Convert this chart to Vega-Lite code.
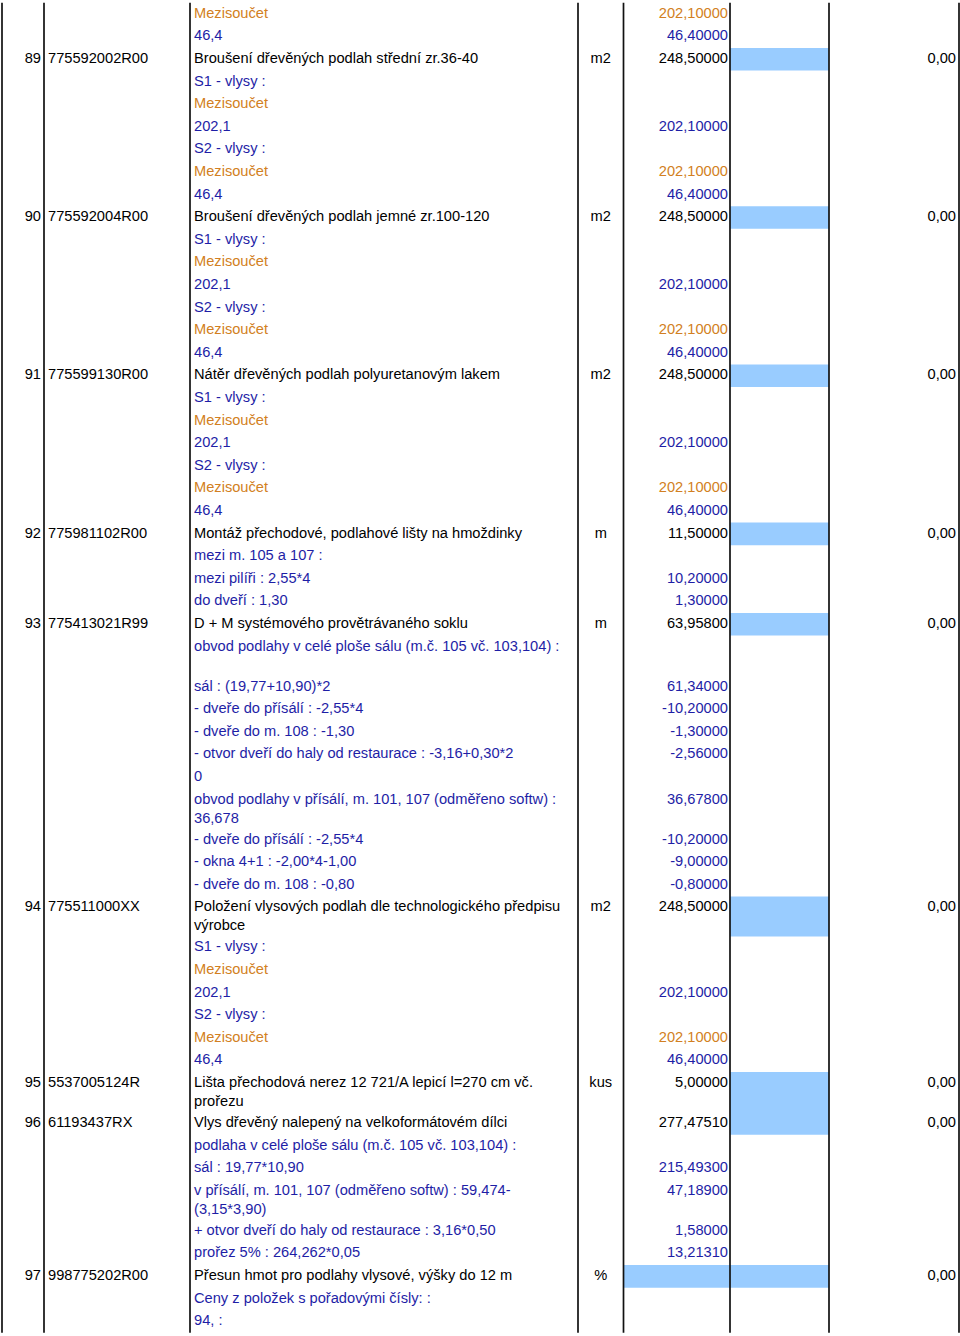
{
  "$schema": "https://vega.github.io/schema/vega-lite/v6.json",
  "width": 960,
  "height": 1336,
  "autosize": {"type": "none"},
  "padding": 0,
  "background": "#ffffff",
  "config": {
    "view": {"stroke": null},
    "text": {"font": "Liberation Sans", "fontSize": 14.65, "baseline": "alphabetic", "dy": 15}
  },
  "datasets": {
    "cols": [{"b": 0}, {"b": 1}, {"b": 2}, {"b": 3}, {"b": 4}, {"b": 5}, {"b": 6}, {"b": 7}],
    "rows": [
      {"r": 0, "d": "Mezisoučet", "q": "202,10000", "s": "o"},
      {"r": 1, "d": "46,4", "q": "46,40000", "s": "b"},
      {"r": 2, "n": "89", "c": "775592002R00", "d": "Broušení dřevěných podlah střední zr.36-40", "u": "m2", "q": "248,50000", "t": "0,00", "s": "i", "bx": 5, "r2": 3},
      {"r": 3, "d": "S1 - vlysy :", "s": "b"},
      {"r": 4, "d": "Mezisoučet", "s": "o"},
      {"r": 5, "d": "202,1", "q": "202,10000", "s": "b"},
      {"r": 6, "d": "S2 - vlysy :", "s": "b"},
      {"r": 7, "d": "Mezisoučet", "q": "202,10000", "s": "o"},
      {"r": 8, "d": "46,4", "q": "46,40000", "s": "b"},
      {"r": 9, "n": "90", "c": "775592004R00", "d": "Broušení dřevěných podlah jemné zr.100-120", "u": "m2", "q": "248,50000", "t": "0,00", "s": "i", "bx": 5, "r2": 10},
      {"r": 10, "d": "S1 - vlysy :", "s": "b"},
      {"r": 11, "d": "Mezisoučet", "s": "o"},
      {"r": 12, "d": "202,1", "q": "202,10000", "s": "b"},
      {"r": 13, "d": "S2 - vlysy :", "s": "b"},
      {"r": 14, "d": "Mezisoučet", "q": "202,10000", "s": "o"},
      {"r": 15, "d": "46,4", "q": "46,40000", "s": "b"},
      {"r": 16, "n": "91", "c": "775599130R00", "d": "Nátěr dřevěných podlah polyuretanovým lakem", "u": "m2", "q": "248,50000", "t": "0,00", "s": "i", "bx": 5, "r2": 17},
      {"r": 17, "d": "S1 - vlysy :", "s": "b"},
      {"r": 18, "d": "Mezisoučet", "s": "o"},
      {"r": 19, "d": "202,1", "q": "202,10000", "s": "b"},
      {"r": 20, "d": "S2 - vlysy :", "s": "b"},
      {"r": 21, "d": "Mezisoučet", "q": "202,10000", "s": "o"},
      {"r": 22, "d": "46,4", "q": "46,40000", "s": "b"},
      {"r": 23, "n": "92", "c": "775981102R00", "d": "Montáž přechodové, podlahové lišty na hmoždinky", "u": "m", "q": "11,50000", "t": "0,00", "s": "i", "bx": 5, "r2": 24},
      {"r": 24, "d": "mezi m. 105 a 107 :", "s": "b"},
      {"r": 25, "d": "mezi pilíři : 2,55*4", "q": "10,20000", "s": "b"},
      {"r": 26, "d": "do dveří : 1,30", "q": "1,30000", "s": "b"},
      {"r": 27, "n": "93", "c": "775413021R99", "d": "D + M systémového provětrávaného soklu", "u": "m", "q": "63,95800", "t": "0,00", "s": "i", "bx": 5, "r2": 28},
      {"r": 28, "d": "obvod podlahy v celé ploše sálu (m.č. 105 vč. 103,104) :", "s": "b"},
      {"r": 29.77, "d": "sál : (19,77+10,90)*2", "q": "61,34000", "s": "b"},
      {"r": 30.77, "d": "- dveře do přísálí : -2,55*4", "q": "-10,20000", "s": "b"},
      {"r": 31.77, "d": "- dveře do m. 108 : -1,30", "q": "-1,30000", "s": "b"},
      {"r": 32.77, "d": "- otvor dveří do haly od restaurace : -3,16+0,30*2", "q": "-2,56000", "s": "b"},
      {"r": 33.77, "d": "0", "s": "b"},
      {"r": 34.77, "d": "obvod podlahy v přísálí, m. 101, 107 (odměřeno softw) :\n36,678", "q": "36,67800", "s": "b"},
      {"r": 36.54, "d": "- dveře do přísálí : -2,55*4", "q": "-10,20000", "s": "b"},
      {"r": 37.54, "d": "- okna  4+1 : -2,00*4-1,00", "q": "-9,00000", "s": "b"},
      {"r": 38.54, "d": "- dveře do  m. 108 : -0,80", "q": "-0,80000", "s": "b"},
      {"r": 39.54, "n": "94", "c": "775511000XX", "d": "Položení vlysových podlah dle technologického předpisu\nvýrobce", "u": "m2", "q": "248,50000", "t": "0,00", "s": "i", "bx": 5, "r2": 41.31},
      {"r": 41.31, "d": "S1 - vlysy :", "s": "b"},
      {"r": 42.31, "d": "Mezisoučet", "s": "o"},
      {"r": 43.31, "d": "202,1", "q": "202,10000", "s": "b"},
      {"r": 44.31, "d": "S2 - vlysy :", "s": "b"},
      {"r": 45.31, "d": "Mezisoučet", "q": "202,10000", "s": "o"},
      {"r": 46.31, "d": "46,4", "q": "46,40000", "s": "b"},
      {"r": 47.31, "n": "95", "c": "5537005124R", "d": "Lišta přechodová nerez 12 721/A lepicí l=270 cm vč.\nprořezu", "u": "kus", "q": "5,00000", "t": "0,00", "s": "i", "bx": 5, "r2": 49.08},
      {"r": 49.08, "n": "96", "c": "61193437RX", "d": "Vlys dřevěný nalepený na velkoformátovém dílci", "q": "277,47510", "t": "0,00", "s": "i", "bx": 5, "r2": 50.08},
      {"r": 50.08, "d": "podlaha v celé ploše sálu (m.č. 105 vč. 103,104) :", "s": "b"},
      {"r": 51.08, "d": "sál : 19,77*10,90", "q": "215,49300", "s": "b"},
      {"r": 52.08, "d": "v přísálí, m. 101, 107 (odměřeno softw) : 59,474-\n(3,15*3,90)", "q": "47,18900", "s": "b"},
      {"r": 53.85, "d": "+ otvor dveří do haly od restaurace : 3,16*0,50", "q": "1,58000", "s": "b"},
      {"r": 54.85, "d": "prořez 5% : 264,262*0,05", "q": "13,21310", "s": "b"},
      {"r": 55.85, "n": "97", "c": "998775202R00", "d": "Přesun hmot pro podlahy vlysové, výšky do 12 m", "u": "%", "t": "0,00", "s": "i", "bx": 4, "r2": 56.85},
      {"r": 56.85, "d": "Ceny z položek s pořadovými čísly: :", "s": "b"},
      {"r": 57.85, "d": "94, :", "s": "b"}
    ]
  },
  "data": {"name": "rows"},
  "layer": [
    {
      "transform": [{"filter": "isValid(datum.bx)"}],
      "mark": {"type": "rect", "color": "#99CCFF"},
      "encoding": {
        "x": {"field": "bx", "type": "quantitative", "axis": null, "scale": {"domain": [0, 1, 2, 3, 4, 5, 6, 7], "range": [2, 44, 190, 578, 623.5, 730, 829, 959], "zero": false, "nice": false}},
        "x2": {"datum": 6},
        "y": {"field": "r", "type": "quantitative", "axis": null, "scale": {"domain": [-0.124, 58.99], "reverse": true, "zero": false, "nice": false}},
        "y2": {"field": "r2"}
      }
    },
    {
      "data": {"name": "cols"},
      "mark": {"type": "rule", "color": "#111111", "strokeWidth": 1.7},
      "encoding": {
        "x": {"field": "b", "type": "quantitative", "axis": null},
        "y": {"datum": 0, "type": "quantitative", "axis": null},
        "y2": {"datum": 58.85}
      }
    },
    {
      "transform": [{"filter": "isValid(datum.n)"}],
      "mark": {"type": "text", "align": "right", "dx": -3, "color": "#000000"},
      "encoding": {
        "x": {"datum": 1, "type": "quantitative", "axis": null},
        "y": {"field": "r", "type": "quantitative", "axis": null},
        "text": {"field": "n"}
      }
    },
    {
      "transform": [{"filter": "isValid(datum.c)"}],
      "mark": {"type": "text", "align": "left", "dx": 4, "color": "#000000"},
      "encoding": {
        "x": {"datum": 1, "type": "quantitative", "axis": null},
        "y": {"field": "r", "type": "quantitative", "axis": null},
        "text": {"field": "c"}
      }
    },
    {
      "transform": [{"filter": "isValid(datum.d)"}],
      "mark": {"type": "text", "align": "left", "dx": 4, "lineBreak": "\n", "lineHeight": 19},
      "encoding": {
        "x": {"datum": 2, "type": "quantitative", "axis": null},
        "y": {"field": "r", "type": "quantitative", "axis": null},
        "text": {"field": "d"},
        "color": {"field": "s", "type": "nominal", "legend": null, "scale": {"domain": ["i", "b", "o"], "range": ["#000000", "#1E1EA6", "#D27F22"]}}
      }
    },
    {
      "transform": [{"filter": "isValid(datum.u)"}],
      "mark": {"type": "text", "align": "center", "color": "#000000"},
      "encoding": {
        "x": {"datum": 3.5, "type": "quantitative", "axis": null},
        "y": {"field": "r", "type": "quantitative", "axis": null},
        "text": {"field": "u"}
      }
    },
    {
      "transform": [{"filter": "isValid(datum.q)"}],
      "mark": {"type": "text", "align": "right", "dx": -2},
      "encoding": {
        "x": {"datum": 5, "type": "quantitative", "axis": null},
        "y": {"field": "r", "type": "quantitative", "axis": null},
        "text": {"field": "q"},
        "color": {"field": "s", "type": "nominal", "legend": null}
      }
    },
    {
      "transform": [{"filter": "isValid(datum.t)"}],
      "mark": {"type": "text", "align": "right", "dx": -3, "color": "#000000"},
      "encoding": {
        "x": {"datum": 7, "type": "quantitative", "axis": null},
        "y": {"field": "r", "type": "quantitative", "axis": null},
        "text": {"field": "t"}
      }
    }
  ]
}
